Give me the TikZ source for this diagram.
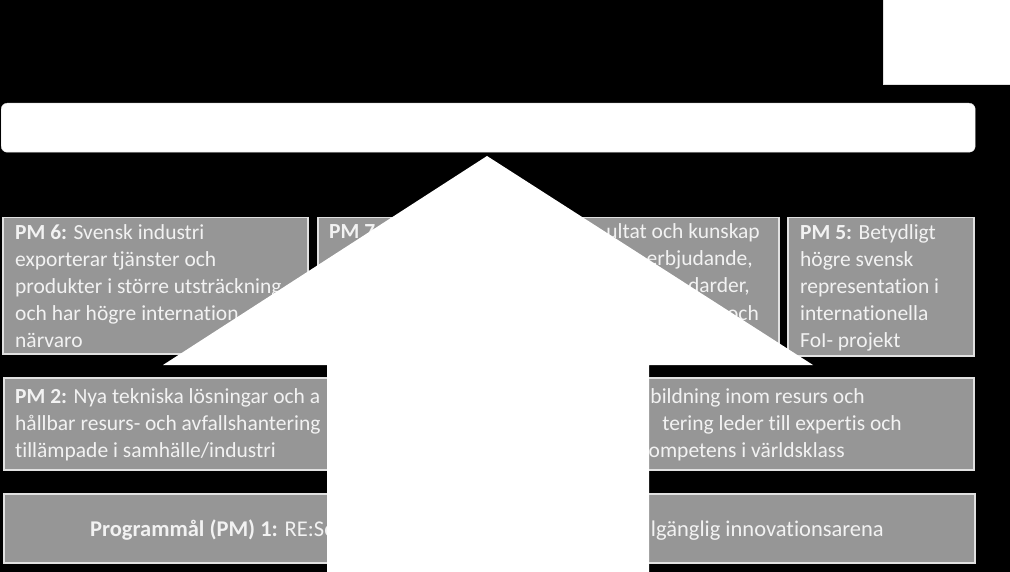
\documentclass[tikz,border=0pt]{standalone}
\usepackage{fontspec}
\setmainfont{Carlito}[Ligatures=NoCommon]
\definecolor{boxgray}{RGB}{150,150,150}
\definecolor{boxline}{RGB}{225,225,225}
\definecolor{pmtext}{RGB}{242,242,242}

\begin{document}
\begin{tikzpicture}[x=1pt,y=-1pt,
    pm box/.style={draw=boxline,line width=1.5pt,fill=boxgray,anchor=north west,inner sep=0pt},
    pm text/.style={inner sep=0pt,align=left,text=pmtext,font=\fontsize{21.5}{27}\selectfont},
    pm frag/.style={pm text,anchor=base east}]
    \useasboundingbox (0,0) rectangle (1010,572);
    \fill[black] (0,0) rectangle (1010,572);

    \node[fill=white,draw=boxline,anchor=north west,minimum width=128pt,minimum height=85pt] (corner) at (883,-1) {};
    \node[fill=white,draw=boxline,rounded corners=6pt,anchor=north west,minimum width=974pt,minimum height=49pt] (goal) at (1,103) {};

    \node[pm box,minimum width=305pt,minimum height=136pt] (pm6) at (2,217) {};
    \node[pm box,minimum width=461pt,minimum height=136pt] (pm7) at (317,217) {};
    \node[pm box,minimum width=186pt,minimum height=138pt] (pm5) at (787,217) {};
    \node[pm box,minimum width=482pt,minimum height=92pt] (pm2) at (3,377) {};
    \node[pm box,minimum width=482pt,minimum height=92pt] (pm3) at (491,377) {};
    \node[pm box,minimum width=971pt,minimum height=69pt] (pm1) at (3,493) {};

    \node[pm text,anchor=base west] (t6) at (15,347) {\textbf{PM 6:} Svensk industri\\exporterar tjänster och\\produkter i större utsträckning\\och har högre internation\\närvaro};
    \node[pm text,anchor=base west] (t7) at (329,239) {\textbf{PM 7:}};
    \node[pm frag] (t7a) at (760,239) {ultat och kunskap};
    \node[pm frag] (t7b) at (753,266) {erbjudande,};
    \node[pm frag] (t7c) at (750,293) {darder,};
    \node[pm frag] (t7d) at (759,320) {och};
    \node[pm text,anchor=base west] (t5) at (800,347) {\textbf{PM 5:} Betydligt\\högre svensk\\representation i\\internationella\\FoI- projekt};

    \node[pm text,anchor=base west] (t2) at (15,457) {\textbf{PM 2:} Nya tekniska lösningar och a\\hållbar resurs- och avfallshantering\\tillämpade i samhälle/industri};
    \node[pm frag] (t3a) at (865,403) {bildning inom resurs och};
    \node[pm frag] (t3b) at (902,430) {tering leder till expertis och};
    \node[pm frag] (t3c) at (845,457) {ompetens i världsklass};

    \node[pm text,anchor=base west,font=\fontsize{22.5}{27}\selectfont] (t1a) at (90,536) {\textbf{Programmål (PM) 1:} RE:Sc};
    \node[pm frag,font=\fontsize{22.5}{27}\selectfont] (t1b) at (884,536) {lgänglig innovationsarena};

    \fill[white] (487,156) -- (813,365) -- (649,365) -- (649,573) -- (327,573) -- (327,365) -- (163,365) -- cycle;
\end{tikzpicture}
\end{document}
